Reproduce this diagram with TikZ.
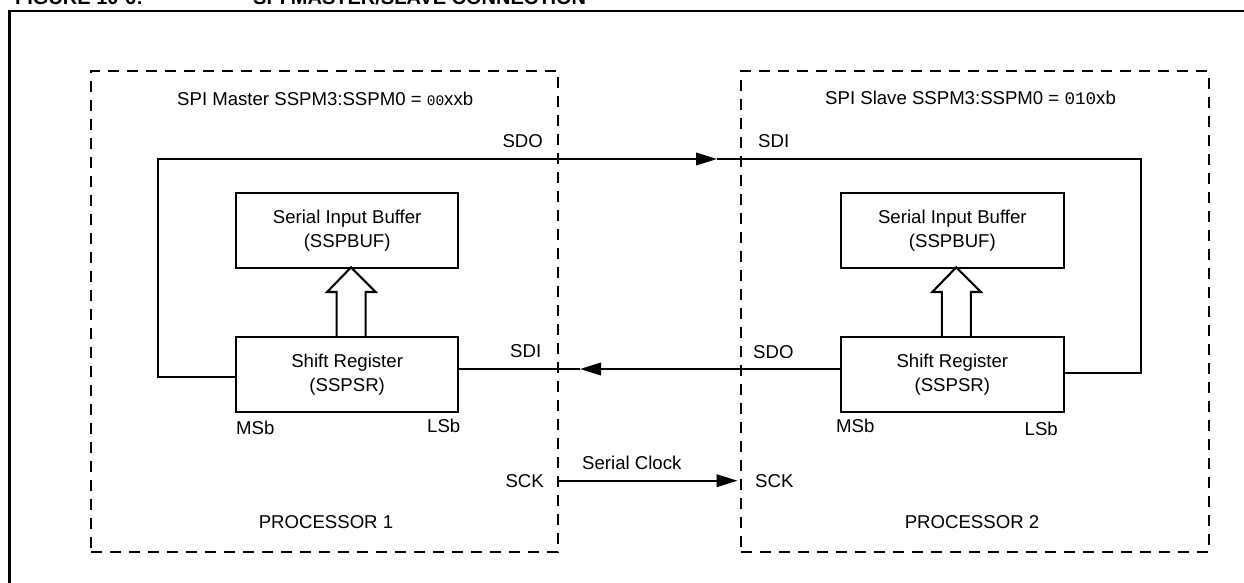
\documentclass[tikz,border=0pt]{standalone}
\usepackage{fontspec}
\setmainfont{Liberation Sans}
\setmonofont{Liberation Mono}
\usetikzlibrary{arrows.meta,calc}
\newcommand\lblfont{\fontsize{18.6}{24}\selectfont}
\newcommand\figtitlefont{\fontsize{20}{24}\selectfont\bfseries}
\begin{document}
\begin{tikzpicture}[x=1pt,y=-1pt,
  wire/.style={line width=2.1pt},
  sig/.style={wire,-{Triangle[length=21pt,width=12.5pt]}},
  blockbox/.style={draw,line width=2.1pt,rectangle,inner sep=0pt,align=center,font=\lblfont},
  procbox/.style={draw,line width=2pt,dash pattern=on 11pt off 8pt,rectangle,inner sep=0pt},
  lbl/.style={font=\lblfont,inner sep=0pt},
  hollow/.style={line width=2.1pt,line join=miter},
  frame/.style={line width=2.8pt}]
\useasboundingbox (0,0) rectangle (1244,582);
\clip (0,0) rectangle (1244,582);

% figure title (cut off at the top, as in the reference)
\node[font=\figtitlefont,inner sep=0pt,anchor=base west] (ftitleA) at (15,4) {FIGURE 10-6:};
\node[font=\figtitlefont,inner sep=0pt,anchor=base west] (ftitleB) at (253,4) {SPI MASTER/SLAVE CONNECTION};
% outer frame
\draw[frame] (9.6,620) |- (1280,11);

% processor boxes
\node[procbox,minimum width=467pt,minimum height=481pt] (procL) at (324.5,311.5) {};
\node[procbox,minimum width=467.5pt,minimum height=481pt] (procR) at (974.75,311.5) {};

% titles
\node[lbl,anchor=base west] (tL) at (177,105) {SPI Master SSPM3:SSPM0 = {\ttfamily\fontsize{14.5}{14}\selectfont 00}xxb};
\node[lbl,anchor=base west] (tR) at (825,104.3) {SPI Slave SSPM3:SSPM0 = {\ttfamily\fontsize{17.6}{18}\selectfont 010}xb};

% blocks
\node[blockbox,minimum width=222.3pt,minimum height=74.5pt] (bufL) at (347.15,230.45) {Serial Input Buffer\\(SSPBUF)};
\node[blockbox,minimum width=222.3pt,minimum height=75pt] (srL) at (347.15,374.5) {Shift Register\\(SSPSR)};
\node[blockbox,minimum width=223.3pt,minimum height=74.5pt] (bufR) at (952.35,230.45) {Serial Input Buffer\\(SSPBUF)};
\node[blockbox,minimum width=223.3pt,minimum height=75pt] (srR) at (952.35,374.5) {Shift Register\\(SSPSR)};

% hollow transfer arrows
\draw[hollow] ($(srL.north)+(-10.5,0)$) -- ++(0,-44) -- ++(-9.5,0) -- ($(bufL.south)+(3.85,-1.4)$) -- ($(srL.north)+(28.5,-44)$) -- ++(-10,0) -- ($(srL.north)+(18.5,0)$);
\draw[hollow] ($(srR.north)+(-10.5,0)$) -- ++(0,-44) -- ++(-9.5,0) -- ($(bufR.south)+(3.85,-1.4)$) -- ($(srR.north)+(28.5,-44)$) -- ++(-10,0) -- ($(srR.north)+(18.5,0)$);

% SDO (master) -> SDI (slave)
\coordinate (loopL) at (158.3,159);
\coordinate (sdoTip) at (717,159);
\coordinate (loopR) at (1140.7,159);
\draw[sig] ($(srL.west)+(0,2.2)$) -| (loopL) -- (sdoTip);
\draw[wire] (sdoTip) -- (loopR) |- ($(srR.east)+(0,-1.2)$);

% SDO (slave) -> SDI (master)
\coordinate (sdiTip) at (580,369);
\draw[sig] ($(srR.west)+(0,-5.5)$) -- (sdiTip);
\draw[wire] (sdiTip) -- ($(srL.east)+(0,-5.5)$);

% serial clock
\coordinate (sckA) at (558.5,480.7);
\coordinate (sckB) at (737.5,480.7);
\draw[sig] (sckA) -- (sckB);

% pin labels
\node[lbl,anchor=base east] (sdoL) at (543,147) {SDO};
\node[lbl,anchor=base west] (sdiR) at (758,147) {SDI};
\node[lbl,anchor=base west] (sdiL) at (510,357) {SDI};
\node[lbl,anchor=base west] (sdoR) at (753,358) {SDO};
\node[lbl,anchor=base east] (sckLl) at (544,487) {SCK};
\node[lbl,anchor=base west] (sckRl) at (755,487) {SCK};
\node[lbl,anchor=base west] (clk) at (582,469) {Serial Clock};

\node[lbl,anchor=base west] (msbL) at (236,434) {MSb};
\node[lbl,anchor=base east] (lsbL) at (460.5,432) {LSb};
\node[lbl,anchor=base west] (msbR) at (836,432.7) {MSb};
\node[lbl,anchor=base east] (lsbR) at (1058,435) {LSb};

\node[lbl,anchor=base] (p1) at (326,528) {PROCESSOR 1};
\node[lbl,anchor=base] (p2) at (972,528) {PROCESSOR 2};
\end{tikzpicture}
\end{document}
